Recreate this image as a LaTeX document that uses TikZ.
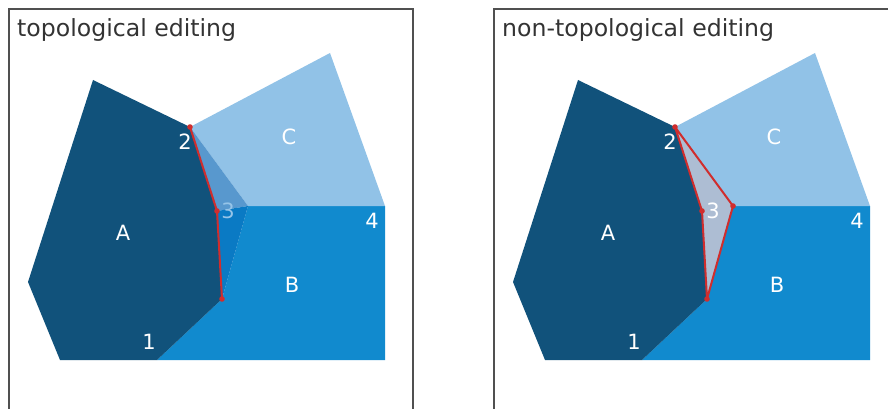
\documentclass[tikz,border=0pt]{standalone}
\usepackage{fontspec}
\setmainfont{DejaVu Sans}
\definecolor{Adark}{RGB}{17,82,123}
\definecolor{Bblue}{RGB}{17,138,206}
\definecolor{Clight}{RGB}{145,194,231}
\definecolor{ovC}{RGB}{88,152,206}
\definecolor{ovB}{RGB}{10,122,196}
\definecolor{edred}{RGB}{208,45,45}
\definecolor{greyq}{RGB}{173,189,211}
\definecolor{framec}{RGB}{80,80,80}
\definecolor{lblthree}{RGB}{150,196,232}
\begin{document}
\begin{tikzpicture}[x=1pt,y=-1pt,
  lbl/.style={text=white,font=\fontsize{21}{21}\selectfont,inner sep=0pt},
  ttl/.style={text=black!80,font=\fontsize{23.6}{23.6}\selectfont,inner sep=0pt,anchor=base west},
  framebox/.style={draw=framec,line width=1.3pt},
  redge/.style={draw=edred,line width=2pt,line join=round},
  rdot/.style={fill=edred}]
\useasboundingbox (0,0) rectangle (888,409);
\foreach \p/\dx in {L/0,R/485}{
  \begin{scope}[xshift=\dx pt]
    \coordinate (\p-top) at (93,80);
    \coordinate (\p-two) at (190,127);
    \coordinate (\p-three) at (217,211);
    \coordinate (\p-low) at (222,299);
    \coordinate (\p-one) at (157,360);
    \coordinate (\p-bl) at (60,360);
    \coordinate (\p-left) at (28,282);
    \coordinate (\p-ctop) at (330,53);
    \coordinate (\p-four) at (385,206);
    \coordinate (\p-old) at (248,206);
    \coordinate (\p-br) at (385,360);
    \draw[framebox] (9,430) -- (9,9) -- (413,9) -- (413,430);
    \fill[Bblue] (\p-one) -- (\p-low) -- (\p-old) -- (\p-four) -- (\p-br) -- cycle;
    \fill[Clight] (\p-two) -- (\p-ctop) -- (\p-four) -- (\p-old) -- cycle;
    \fill[Adark] (\p-top) -- (\p-two) -- (\p-three) -- (\p-low) -- (\p-one) -- (\p-bl) -- (\p-left) -- cycle;
    \node[lbl] (\p-A) at (123,233) {A};
    \node[lbl] (\p-B) at (292,285) {B};
    \node[lbl] (\p-C) at (289,137) {C};
    \node[lbl] (\p-l1) at (149,342) {1};
    \node[lbl] (\p-l2) at (185,142) {2};
    \node[lbl] (\p-l4) at (372,221) {4};
  \end{scope}
}
% left panel specifics
\node[ttl] (ttlL) at (17,37) {topological editing};
\fill[ovC] (L-two) -- (L-three) -- (L-old) -- cycle;
\fill[ovB] (L-three) -- (L-old) -- (L-low) -- cycle;
\draw[redge] (L-two) -- (L-three) -- (L-low);
\foreach \c in {L-two,L-three,L-low} \fill[rdot] (\c) circle (2.8pt);
\node[lbl,text=lblthree] (L-l3) at (228,211) {3};
% right panel specifics
\node[ttl] (ttlR) at (502,37) {non-topological editing};
\fill[greyq] (R-two) -- (R-old) -- (R-low) -- (R-three) -- cycle;
\draw[redge] (R-two) -- (R-three) -- (R-low) -- (R-old) -- cycle;
\foreach \c in {R-two,R-three,R-low,R-old} \fill[rdot] (\c) circle (2.8pt);
\node[lbl] (R-l3) at (713,211) {3};
\end{tikzpicture}
\end{document}
